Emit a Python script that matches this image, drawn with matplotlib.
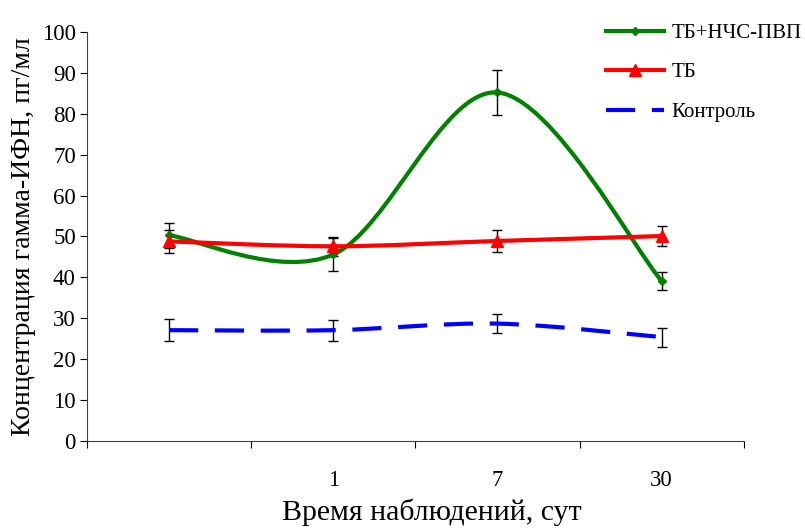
import matplotlib.pyplot as plt
from matplotlib.path import Path
from matplotlib.patches import PathPatch
from matplotlib.lines import Line2D
import numpy as np

categories = ["", "1", "7", "30"]

tb_nchs = [50.3, 45.6, 85.2, 39.1]
tb_nchs_err = [3.0, 4.1, 5.6, 2.3]

tb = [48.8, 47.6, 48.9, 50.1]
tb_err = [2.9, 2.3, 2.8, 2.4]

control = [27.1, 27.1, 28.7, 25.4]
control_err = [2.7, 2.6, 2.4, 2.3]

plt.rcParams['font.family'] = ['Liberation Serif', 'DejaVu Serif']


def smooth_path(x, y):
    # Excel-like smoothed line: Catmull-Rom segments as cubic Bezier curves
    pts = np.column_stack([x, y])
    n = len(pts)
    verts = [pts[0]]
    codes = [Path.MOVETO]
    for i in range(n - 1):
        p0 = pts[max(i - 1, 0)]
        p1 = pts[i]
        p2 = pts[i + 1]
        p3 = pts[min(i + 2, n - 1)]
        c1 = p1 + (p2 - p0) / 6.0
        c2 = p2 - (p3 - p1) / 6.0
        verts += [c1, c2, p2]
        codes += [Path.CURVE4] * 3
    return Path(verts, codes)


fig = plt.figure(figsize=(8.05, 5.32), dpi=100)
ax = fig.add_axes([0.108, 0.171, 0.816, 0.769])

xpos = np.arange(len(categories)) + 0.5

series = [
    (tb_nchs, tb_nchs_err, "#008000", "D", 4, "-", "ТБ+НЧС-ПВП"),
    (tb, tb_err, "#ff0000", "^", 8, "-", "ТБ"),
    (control, control_err, "#0000ff", None, 0, (0, (7, 4)), "Контроль"),
]

handles = []
for vals, errs, col, mk, ms, ls, lab in series:
    ax.errorbar(xpos, vals, yerr=errs, fmt="none", ecolor="black",
                elinewidth=1, capsize=3.8, capthick=1, zorder=2)
    ax.add_patch(PathPatch(smooth_path(xpos, vals), facecolor="none",
                           edgecolor=col, lw=3, linestyle=ls, zorder=3))
    if mk is not None:
        ax.plot(xpos, vals, linestyle="none", marker=mk, color=col,
                markersize=ms, zorder=4)
    handles.append(Line2D([], [], color=col, lw=3, linestyle=ls,
                          marker=mk, markersize=ms))

ax.set_xlim(0, len(categories))
ax.set_ylim(0, 100)
ax.set_yticks(np.arange(0, 101, 10))
ax.set_xticks(np.arange(0, len(categories) + 1))
ax.set_xticklabels([])
ax.set_xticks(xpos, minor=True)
ax.set_xticklabels(categories, minor=True)
ax.tick_params(axis="x", which="minor", length=0, pad=21, labelsize=16.5)
ax.tick_params(axis="x", which="major", length=5, direction="out")
ax.tick_params(axis="y", length=5, direction="out", labelsize=16.5, pad=3)

for s in ["top", "right"]:
    ax.spines[s].set_visible(False)
for s in ["left", "bottom"]:
    ax.spines[s].set_color("#404040")

ax.set_xlabel("Время наблюдений, сут", fontsize=21.5)
ax.xaxis.set_label_coords(0.525, -0.14)
ax.set_ylabel("Концентрация гамма-ИФН, пг/мл", fontsize=20, labelpad=4)

fig.legend(handles, [s[6] for s in series], loc="upper left",
           bbox_to_anchor=(0.729, 0.991), frameon=False, fontsize=15,
           handlelength=2.8, handletextpad=0.35, labelspacing=0.95)

fig.savefig("out.png", dpi=100)
